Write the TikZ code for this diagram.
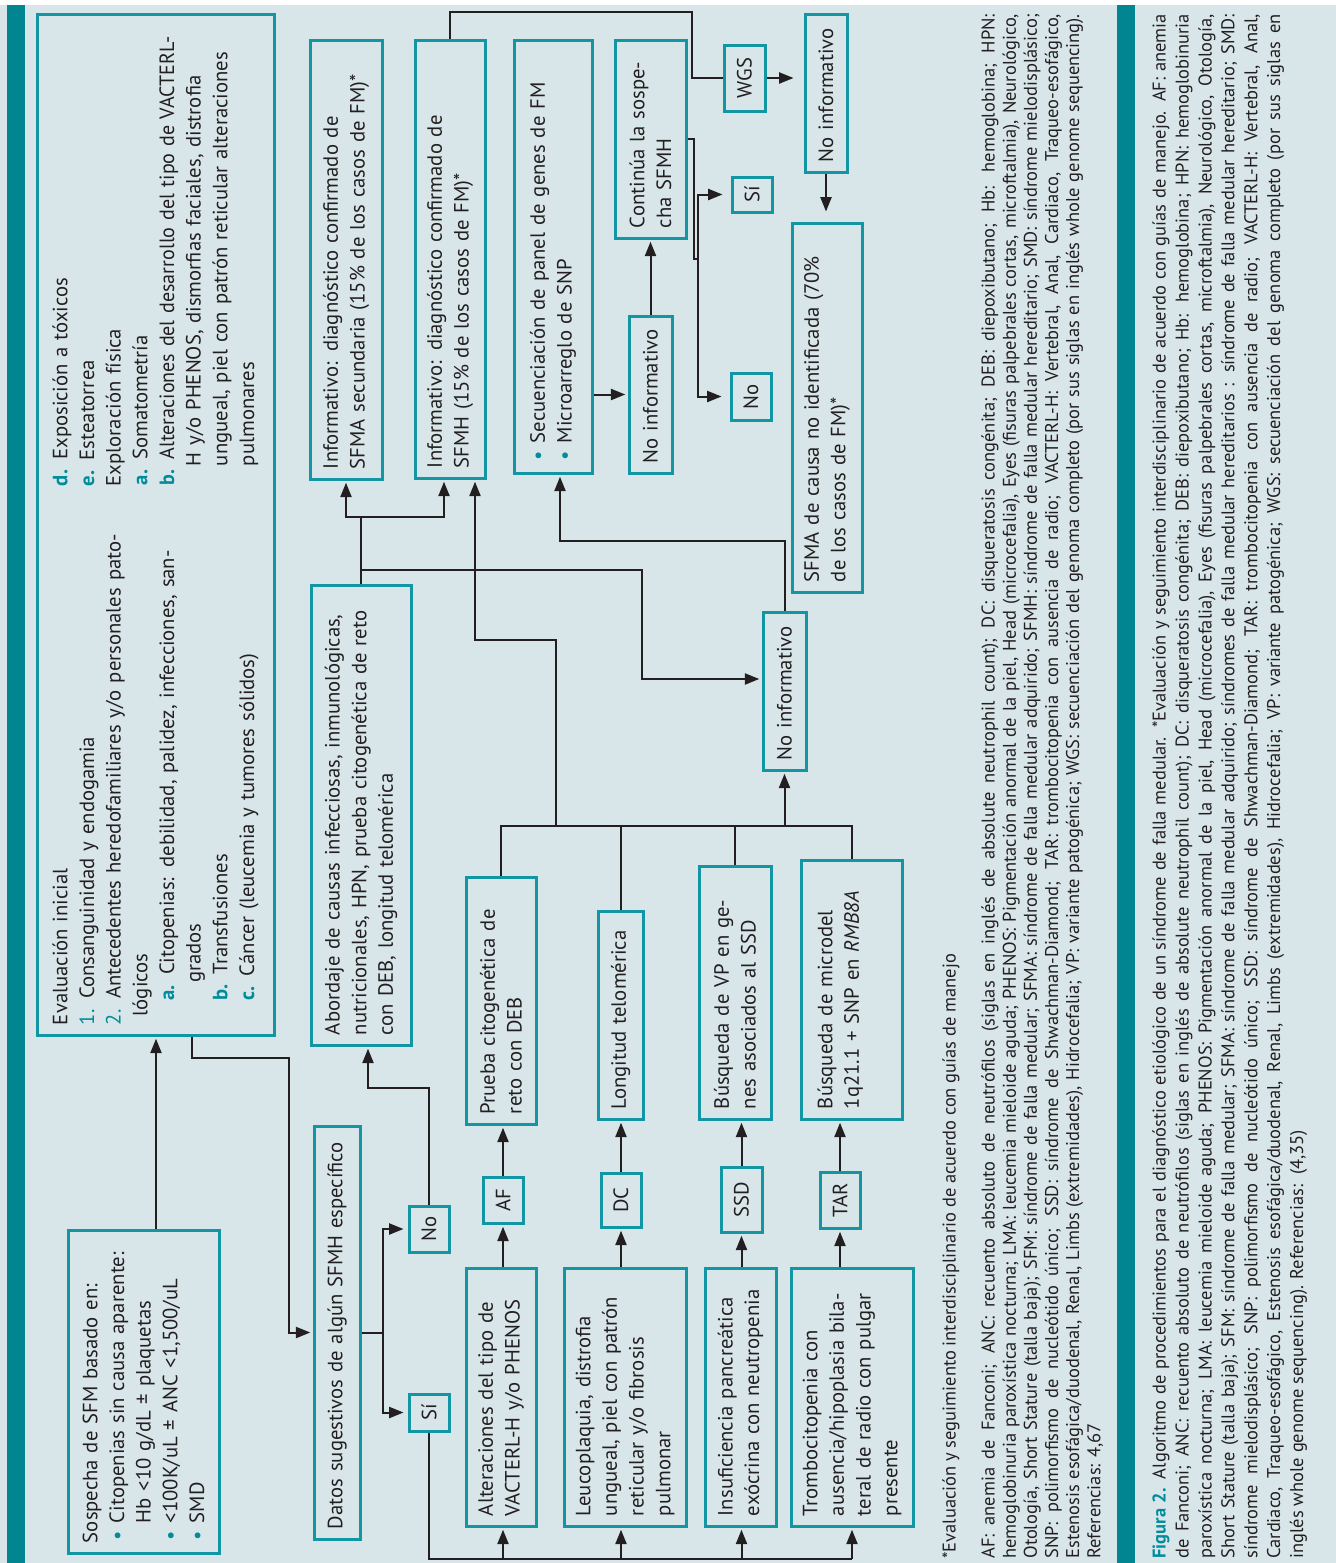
\documentclass[tikz,border=0pt]{standalone}
\usepackage{fontspec}
\setmainfont{PT Sans}
\usepackage{xcolor}
\usetikzlibrary{arrows.meta}
\definecolor{bgc}{RGB}{216,230,233}
\definecolor{barc}{RGB}{0,133,145}
\definecolor{boxc}{RGB}{18,150,164}
\definecolor{tealc}{RGB}{0,140,155}
\definecolor{txtc}{RGB}{35,31,32}
\newcommand\bul{\makebox[9pt][l]{\hspace{1pt}\textcolor{tealc}{\textbullet}}}
\newcommand\lbl[1]{\textcolor{tealc}{\textbf{#1}}}
\newcommand\num[1]{\textcolor{tealc}{#1}}
\newdimen\capw \capw=695pt
\newdimen\colw \colw=204pt

\begin{document}
\begin{tikzpicture}[x=0.45pt, y=0.45pt,
  box/.style={draw=boxc, line width=1.35pt, rotate=90, inner xsep=4.5pt, inner ysep=0pt, text=txtc, font=\fontsize{9.3}{12}\selectfont},
  para/.style 2 args={box, minimum width=#1*0.45pt, minimum height=#2*0.45pt, text width=#1*0.45pt-9pt, align=left},
  tag/.style 2 args={box, minimum width=#1*0.45pt, minimum height=#2*0.45pt, inner xsep=0pt, align=center},
  con/.style={draw=txtc, line width=0.9pt},
  arr/.style={con, -{Triangle[length=6.5pt,width=5pt]}, shorten >=1pt},
  captxt/.style={rotate=90, inner sep=0pt, anchor=north west, text=txtc}]
		% 背景
		\useasboundingbox (0,0) rectangle (1336,-1563);
		\fill[bgc] (0,0) rectangle (1336,-1563);
		\fill[white] (0,0) rectangle (1336,-5);
		\fill[barc] (7,-5) rectangle (25,-1563);
		\fill[barc] (1117,-5) rectangle (1135,-1563);
		% 左侧方框
		\node[para={323}{151}] (sosp) at (143.5,-1391.5) {\mbox{Sospecha de SFM basado en:}\\\mbox{\bul Citopenias sin causa aparente:}\\\mbox{\hspace*{9pt}Hb <10 g/dL ± plaquetas}\\\mbox{\bul <100K/uL ± ANC <1,500/uL}\\\mbox{\bul SMD}};
		\node[para={1021}{237}] (eval) at (155.5,-524.5) {\makebox[242.5pt][l]{\vtop{%
			\hbox{Evaluación inicial}
			\hbox{\num{1.} Consanguinidad y endogamia}
			\hbox{\num{2.} Antecedentes heredofamiliares y/o personales pato-}
			\hbox{\hspace*{4pt}lógicos}
			\hbox{\hspace*{11pt}\lbl{a.} Citopenias: debilidad, palidez, infecciones, san-}
			\hbox{\hspace*{19pt}grados}
			\hbox{\hspace*{11pt}\lbl{b.} Transfusiones}
			\hbox{\hspace*{11pt}\lbl{c.} Cáncer (leucemia y tumores sólidos)}}}%
			\vtop{%
			\hbox{\lbl{d.} Exposición a tóxicos}
			\hbox{\lbl{e.} Esteatorrea}
			\hbox{Exploración física}
			\hbox{\hspace*{0.5pt}\lbl{a.} Somatometría}
			\hbox{\hspace*{0.5pt}\scalebox{0.97}[1]{\lbl{b.} Alteraciones del desarrollo del tipo de VACTERL-}}
			\hbox to\colw{\hspace*{9pt}H y/o PHENOS, dismorfias faciales, distrofia}
			\hbox to\colw{\hspace*{9pt}ungueal, piel con patrón reticular alteraciones}
			\hbox{\hspace*{9pt}pulmonares}}};
		\node[para={413}{46}] (datos) at (337,-1332.5) {\mbox{Datos sugestivos de algún SFMH específico}};
		\node[tag={46}{40}] (no1) at (429,-1229) {No};
		\node[tag={37}{40}] (si1) at (429,-1412.5) {Sí};
		\node[para={460}{100}] (abord) at (361,-815) {\mbox{Abordaje de causas infecciosas, inmunológicas,}\\\mbox{nutricionales, HPN, prueba citogenética de reto}\\\mbox{con DEB, longitud telomérica}};
		% 上方方框
		\node[para={439}{72}] (infA) at (346,-259.5) {\mbox{Informativo: diagnóstico confirmado de}\\\mbox{SFMA secundaria (15\% de los casos de FM)*}};
		\node[para={438}{70}] (infH) at (450,-259) {\mbox{Informativo: diagnóstico confirmado de}\\\mbox{SFMH (15\% de los casos de FM)*}};
		\node[para={433}{78}] (secu) at (553,-256.5) {\mbox{\bul Secuenciación de panel de genes de FM}\\\mbox{\bul Microarreglo de SNP}};
		\node[para={157}{43}] (noinf2) at (650.5,-394.5) {\mbox{No informativo}};
		\node[para={198}{71}] (cont) at (650.5,-139) {\mbox{Continúa la sospe-}\\\mbox{cha SFMH}};
		\node[tag={66}{41}] (wgs) at (744.5,-78) {WGS};
		\node[para={158}{42}] (noinf3) at (826,-93) {\mbox{No informativo}};
		\node[para={369}{70}] (sfmaC) at (827,-407.5) {\mbox{SFMA de causa no identificada (70\%}\\\mbox{de los casos de FM)*}};
		\node[tag={35}{40}] (si2) at (752,-194.5) {Sí};
		\node[tag={47}{40}] (no2) at (751,-396.5) {No};
		\node[para={158}{43}] (noinf1) at (784.5,-691) {\mbox{No informativo}};
		% 下方方框
		\node[para={258}{70}] (vact) at (501,-1397) {\mbox{Alteraciones del tipo de}\\\mbox{VACTERL-H y/o PHENOS}};
		\node[tag={46}{40}] (af) at (503,-1200) {AF};
		\node[para={247}{70}] (prueba) at (501,-1000.5) {\mbox{Prueba citogenética de}\\\mbox{reto con DEB}};
		\node[para={258}{122}] (leuco) at (625,-1397) {\mbox{Leucoplaquia, distrofia}\\\mbox{ungueal, piel con patrón}\\\mbox{reticular y/o fibrosis}\\\mbox{pulmonar}};
		\node[tag={54}{40}] (dc) at (621,-1200) {DC};
		\node[para={208}{45}] (longt) at (620.5,-1015) {\mbox{Longitud telomérica}};
		\node[para={258}{71}] (insuf) at (740.5,-1397) {\mbox{Insuficiencia pancreática}\\\mbox{exócrina con neutropenia}};
		\node[tag={65}{41}] (ssd) at (741.5,-1199.5) {SSD};
		\node[para={253}{72}] (busVP) at (735,-992.5) {\mbox{Búsqueda de VP en ge-}\\\mbox{nes asociados al SSD}};
		\node[para={258}{122}] (tromb) at (852,-1397) {\mbox{Trombocitopenia con}\\\mbox{ausencia/hipoplasia bila-}\\\mbox{teral de radio con pulgar}\\\mbox{presente}};
		\node[tag={56}{40}] (tar) at (840,-1200) {TAR};
		\node[para={259}{101}] (busMD) at (851.5,-989.5) {\mbox{Búsqueda de microdel}\\\mbox{1q21.1 + SNP en \textit{RMB8A}}\\\mbox{}};
		% 连线
		\coordinate (sibus) at (852,-1559);
		\coordinate (tb) at (0,-826);
		\draw[arr] (sosp.east -| 156,0) -- (eval.west -| 156,0);
		\draw[arr] (eval.west -| 192,0) |- (289,-1058) |- (datos.north);
		\draw[con] (datos.south) -- ++(21,0) coordinate (dj);
		\draw[arr, shorten >=1.8pt] (dj) |- (no1.north);
		\draw[arr, shorten >=1.8pt] (dj) |- (si1.north);
		\draw[arr] (no1.east) |- (368,-1088) -- (abord.west -| 368,0);
		\draw[con] (si1.west) |- (sibus);
		\draw[arr] (af |- sibus) -- (vact.west -| af);
		\draw[arr] (dc |- sibus) -- (leuco.west -| dc);
		\draw[arr] (ssd |- sibus) -- (insuf.west -| ssd);
		\draw[arr] (tromb |- sibus) -- (tromb.west);
		\draw[arr] (vact.east -| af) -- (af.west);
		\draw[arr] (af.east) -- (prueba.west -| af);
		\draw[arr] (leuco.east -| dc) -- (dc.west);
		\draw[arr] (dc.east) -- (longt.west -| dc);
		\draw[arr] (insuf.east -| ssd) -- (ssd.west);
		\draw[arr] (ssd.east) -- (busVP.west -| ssd);
		\draw[arr] (tromb.east -| tar) -- (tar.west);
		\draw[arr] (tar.east) -- (busMD.west -| tar);
		\draw[con] (prueba.east) -- (prueba.east |- tb) -- (busMD.east |- tb) -- (busMD.east);
		\draw[con] (longt.east) -- (longt.east |- tb);
		\draw[con] (busVP.east) -- (busVP.east |- tb);
		\draw[arr] (noinf1 |- tb) -- (noinf1.west);
		\draw[arr] (tb -| 556,0) |- (475,-640) -- (infH.west -| 475,0);
		\draw[arr] (abord.east) |- (infA.west |- 0,-517) -- (infA.west);
		\draw[arr] (abord.east |- 0,-517) -| (infH.west -| 444,0);
		\draw[arr] (abord.east |- 0,-570) -| (642,-679) -- (noinf1.north |- 0,-679);
		\draw[arr] (noinf1.east) |- (560,-541) -- (secu.west -| 560,0);
		\draw[arr] (secu.south |- noinf2) -- (noinf2.north);
		\draw[arr] (noinf2.east) -- (cont.west);
		\draw[con] (cont.south) -- ++(6,0) |- (698,-259);
		\draw[arr, shorten >=3.6pt] (698,-259) |- (si2.north);
		\draw[arr, shorten >=3.6pt] (698,-259) |- (no2.north);
		\draw[con] (infH.east) |- (692,-12) |- (wgs.north);
		\draw[arr, shorten >=4.5pt] (wgs.south) -- (noinf3.north |- wgs.south);
		\draw[arr, shorten >=4.5pt] (noinf3.west) -- (noinf3.west |- sfmaC.east);
		% 注释文字
		\node[captxt, font=\fontsize{8.3}{9.5}\selectfont] (fnote) at (942,-1559) {*Evaluación y seguimiento interdisciplinario de acuerdo con guías de manejo};
		\node[captxt, font=\fontsize{8.3}{9.5}\selectfont] (abbr) at (981,-1559) {\vtop{%
			\hbox to\capw{AF: anemia de Fanconi; ANC: recuento absoluto de neutrófilos (siglas en inglés de absolute neutrophil count); DC: disqueratosis congénita; DEB: diepoxibutano; Hb: hemoglobina; HPN:}
			\hbox to\capw{hemoglobinuria paroxística nocturna; LMA: leucemia mieloide aguda; PHENOS: Pigmentación anormal de la piel, Head (microcefalia), Eyes (fisuras palpebrales cortas, microftalmia), Neurológico,}
			\hbox to\capw{Otología, Short Stature (talla baja); SFM: síndrome de falla medular; SFMA: síndrome de falla medular adquirido; SFMH: síndrome de falla medular hereditario; SMD: síndrome mielodisplásico;}
			\hbox to\capw{SNP: polimorfismo de nucleótido único; SSD: síndrome de Shwachman-Diamond; TAR: trombocitopenia con ausencia de radio; VACTERL-H: Vertebral, Anal, Cardiaco, Traqueo-esofágico,}
			\hbox to\capw{Estenosis esofágica/duodenal, Renal, Limbs (extremidades), Hidrocefalia; VP: variante patogénica; WGS: secuenciación del genoma completo (por sus siglas en inglés whole genome sequencing).}
			\hbox{Referencias: 4,67}}};
		\node[captxt, font=\fontsize{8.3}{10.3}\selectfont] (caption) at (1152,-1559) {\vtop{%
			\hbox to\capw{\lbl{Figura 2.} Algoritmo de procedimientos para el diagnóstico etiológico de un síndrome de falla medular. *Evaluación y seguimiento interdisciplinario de acuerdo con guías de manejo. AF: anemia}
			\hbox to\capw{de Fanconi; ANC: recuento absoluto de neutrófilos (siglas en inglés de absolute neutrophil count); DC: disqueratosis congénita; DEB: diepoxibutano; Hb: hemoglobina; HPN: hemoglobinuria}
			\hbox to\capw{paroxística nocturna; LMA: leucemia mieloide aguda; PHENOS: Pigmentación anormal de la piel, Head (microcefalia), Eyes (fisuras palpebrales cortas, microftalmia), Neurológico, Otología,}
			\hbox to\capw{Short Stature (talla baja); SFM: síndrome de falla medular; SFMA: síndrome de falla medular adquirido; síndromes de falla medular hereditarios : síndrome de falla medular hereditario; SMD:}
			\hbox to\capw{síndrome mielodisplásico; SNP: polimorfismo de nucleótido único; SSD: síndrome de Shwachman-Diamond; TAR: trombocitopenia con ausencia de radio; VACTERL-H: Vertebral, Anal,}
			\hbox to\capw{Cardiaco, Traqueo-esofágico, Estenosis esofágica/duodenal, Renal, Limbs (extremidades), Hidrocefalia; VP: variante patogénica; WGS: secuenciación del genoma completo (por sus siglas en}
			\hbox{inglés whole genome sequencing). Referencias:\ \ (4,35)}}};
	\end{tikzpicture}
\end{document}
